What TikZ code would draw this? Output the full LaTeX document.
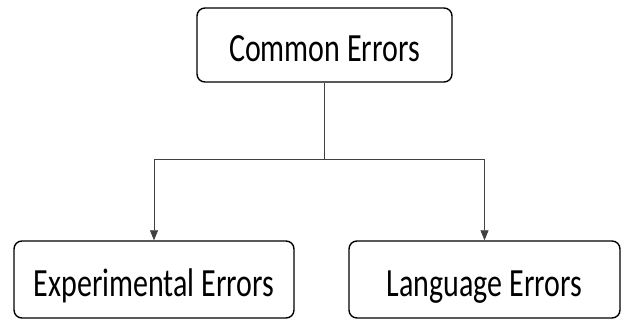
\documentclass[tikz,border=0pt]{standalone}
\usepackage{fontspec}
\setmainfont{Carlito}[FakeStretch=0.75]
\usetikzlibrary{arrows.meta}
\tikzset{
  errbox/.style={draw, line width=1.4pt, rounded corners=8pt, inner sep=0pt,
    font=\fontsize{40}{40}\selectfont, text height=33pt, text depth=0pt},
  link/.style={line width=0.7pt, draw=black!75},
  tip/.style={link, -{Triangle[width=8pt,length=10pt]}}
}
\begin{document}
\begin{tikzpicture}[x=1pt,y=-1pt]
                \useasboundingbox (0,0) rectangle (628,320);
                \node[errbox, minimum width=255pt, minimum height=74pt] (common) at (324.5,45) {Common Errors};
                \node[errbox, minimum width=280pt, minimum height=77pt] (exper) at (154,279.5) {Experimental Errors};
                \node[errbox, minimum width=271pt, minimum height=77pt] (lang) at (484.5,279.5) {Language Errors};
                \coordinate (split) at (324.5,159);
                \draw[link] (common.south)--(split);
                \draw[tip] (split)-|(exper.north);
                \draw[tip] (split)-|(lang.north);
                \end{tikzpicture}
\end{document}
